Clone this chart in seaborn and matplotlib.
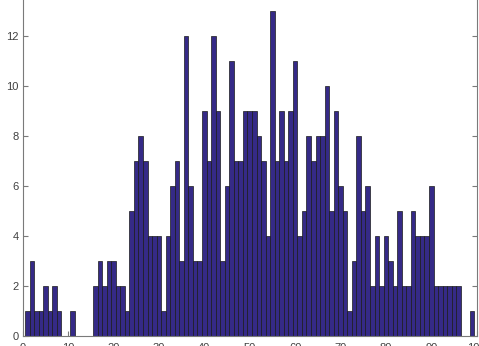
import numpy as np
import pandas as pd
import matplotlib
matplotlib.use("Agg")
import matplotlib.pyplot as plt
import seaborn as sns

# bin centres and counts
bins = list(range(1, 101))
counts = [
    1, 3, 1, 1, 2, 1, 2, 1, 0, 0,
    1, 0, 0, 0, 0, 2, 3, 2, 3, 3,
    2, 2, 1, 5, 7, 8, 7, 4, 4, 4,
    1, 4, 6, 7, 3, 12, 6, 3, 3, 9,
    7, 12, 9, 3, 6, 11, 7, 7, 9, 9,
    9, 8, 7, 4, 13, 7, 9, 7, 9, 11,
    4, 5, 8, 7, 8, 8, 10, 5, 9, 6,
    5, 1, 3, 8, 5, 6, 2, 4, 2, 4,
    3, 2, 5, 2, 2, 5, 4, 4, 4, 6,
    2, 2, 2, 2, 2, 2, 0, 0, 1, 0,
]
x_ticks = list(range(0, 101, 10))
y_ticks = list(range(0, 13, 2))

BAR_COLOR = "#352A87"
AXIS_COLOR = "#7a7a7a"
TEXT_COLOR = "#404040"

df = pd.DataFrame({"value": bins, "count": counts})

sns.set_style("white")
plt.rcParams["font.family"] = ["Liberation Sans", "DejaVu Sans"]

fig = plt.figure(figsize=(4.79, 3.46), dpi=100)
# axes top runs past the figure edge, like the cropped original
ax = fig.add_axes([22.7 / 479, 10 / 346, 454 / 479, 350 / 346])

sns.histplot(
    data=df, x="value", weights="count", discrete=True, shrink=1,
    color=BAR_COLOR, alpha=1, edgecolor="#1a1a1a", linewidth=0.5, ax=ax,
)

ax.set_xlim(0, 100)
ax.set_ylim(0, 14)
ax.set_xticks(x_ticks)
ax.set_yticks(y_ticks)
ax.set_xlabel("")
ax.set_ylabel("")

for side in ["left", "right", "bottom", "top"]:
    ax.spines[side].set_visible(True)
    ax.spines[side].set_color(AXIS_COLOR)
    ax.spines[side].set_linewidth(0.8)

ax.tick_params(axis="both", direction="in", length=3.5, width=0.8,
               color=AXIS_COLOR, labelcolor=TEXT_COLOR, labelsize=8)
ax.tick_params(axis="y", right=True, left=True, pad=3)
ax.tick_params(axis="x", top=True, bottom=True, pad=5)

fig.savefig("out.png", dpi=100)
